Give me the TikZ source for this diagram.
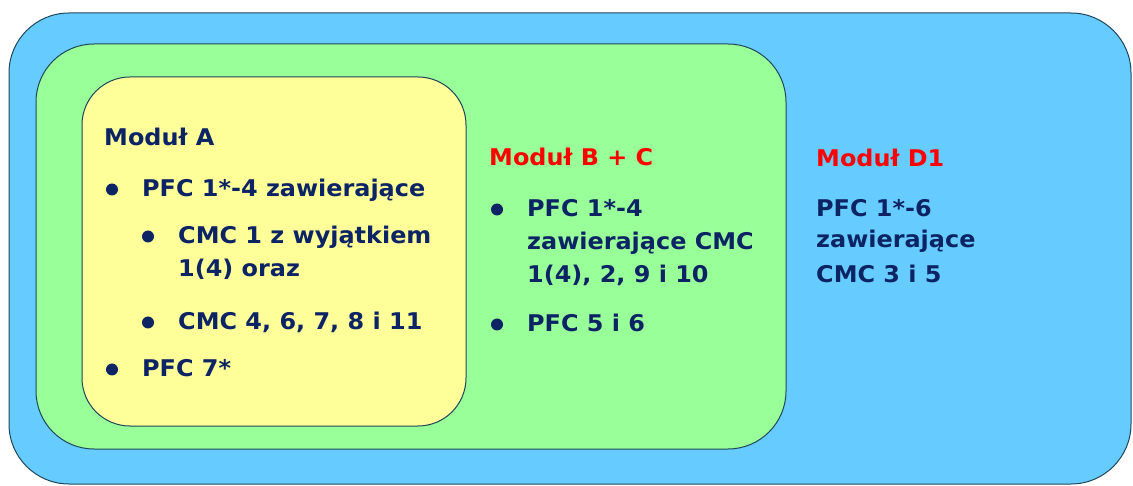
\documentclass[tikz,border=0pt]{standalone}
\usepackage{fontspec}
\setmainfont{DejaVu Sans}[FakeStretch=1.04]
\definecolor{skyblue}{RGB}{102,204,255}
\definecolor{mint}{RGB}{153,255,153}
\definecolor{paleyellow}{RGB}{255,255,153}
\definecolor{navytext}{RGB}{12,35,100}
\definecolor{rimline}{RGB}{30,70,90}

\begin{document}
\begin{tikzpicture}[x=1pt,y=1pt]
\tikzstyle{every node}+=[inner sep=0pt,anchor=base west,text=navytext,font=\fontsize{23}{28}\selectfont\bfseries]
\tikzstyle{title}=[text=red]
\tikzstyle{box}=[rimline,line width=1pt]
\useasboundingbox (0,0) rectangle (1133,-486);
% nested boxes
\draw [box, fill=skyblue, rounded corners=60] (9,-13) rectangle (1131,-484);
\draw [box, fill=mint, rounded corners=58] (36,-44) rectangle (786,-449);
\draw [box, fill=paleyellow, rounded corners=48] (82,-77) rectangle (466,-426);
% module A
\node (modA) at (104,-146) {Moduł A};
\node (a1) at (142,-197) {PFC 1*-4 zawierające};
\node (a2) at (178,-244) {CMC 1 z wyjątkiem};
\node (a3) at (178,-277) {1(4) oraz};
\node (a4) at (178,-330) {CMC 4, 6, 7, 8 i 11};
\node (a5) at (142,-377) {PFC 7*};
% module B + C
\node [title] (modBC) at (489,-166) {Moduł B + C};
\node (b1) at (527,-217) {PFC 1*-4};
\node (b2) at (527,-250) {zawierające CMC};
\node (b3) at (527,-283) {1(4), 2, 9 i 10};
\node (b4) at (527,-332) {PFC 5 i 6};
% module D1
\node [title] (modD) at (816,-167) {Moduł D1};
\node (d1) at (816,-217) {PFC 1*-6};
\node (d2) at (816,-248) {zawierające};
\node (d3) at (816,-283) {CMC 3 i 5};
% bullets
\foreach \n in {a1,a2,a4,a5,b1,b4}
  \fill [navytext] ([xshift=-30pt,yshift=7.5pt]\n.base west) circle (6pt);
\end{tikzpicture}
\end{document}
